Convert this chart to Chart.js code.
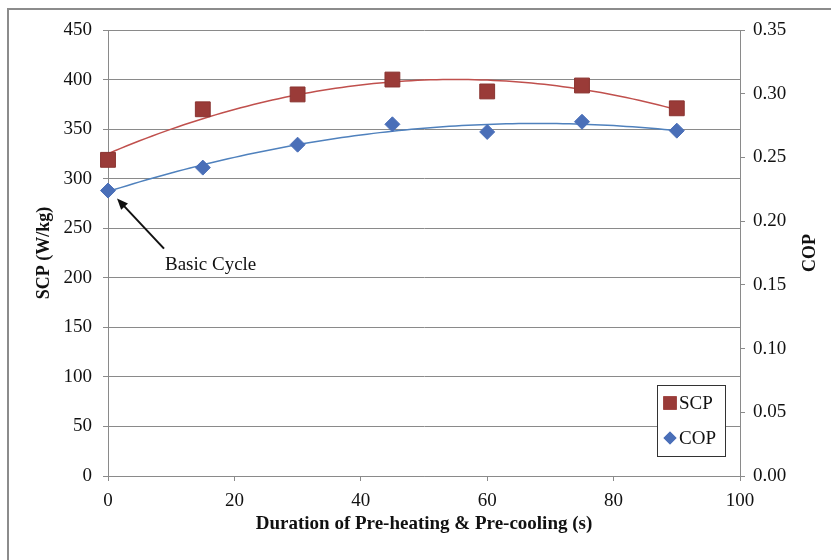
<!DOCTYPE html>
<html>
<head>
<meta charset="utf-8">
<script src="https://cdn.jsdelivr.net/npm/chart.js@4.4.0/dist/chart.umd.min.js"></script>
<style>
  html, body { margin: 0; padding: 0; background: #fff; }
  canvas { display: block; }
</style>
</head>
<body>
<canvas id="grafico" width="831" height="560"></canvas>
<script>
// Duración de pre-calentamiento y pre-enfriamiento (s)
const duracion = [0, 15, 30, 45, 60, 75, 90];
// Potencia específica de enfriamiento (W/kg)
const scp = [319, 370, 385, 400, 388, 394, 371];
// Coeficiente de desempeño
const cop = [0.224, 0.242, 0.260, 0.276, 0.270, 0.278, 0.271];

const ticksX = [0, 20, 40, 60, 80, 100];
const ticksSCP = [0, 50, 100, 150, 200, 250, 300, 350, 400, 450];
const ticksCOP = [0, 0.05, 0.10, 0.15, 0.20, 0.25, 0.30, 0.35];

const fuente = 'Liberation Serif, Times New Roman, serif';
const gris = '#8a8a8a';
const rojo = '#9a3b38';
const rojoLinea = '#c0504d';
const azul = '#4a6fb8';
const azulLinea = '#4f81bd';

// Línea de tendencia polinómica (grado 2) por mínimos cuadrados
function ajusteCuadratico(xs, ys) {
  const s = [0, 0, 0, 0, 0], t = [0, 0, 0];
  xs.forEach((x, i) => {
    for (let k = 0; k < 5; k++) s[k] += Math.pow(x, k);
    for (let k = 0; k < 3; k++) t[k] += ys[i] * Math.pow(x, k);
  });
  const m = [
    [s[0], s[1], s[2], t[0]],
    [s[1], s[2], s[3], t[1]],
    [s[2], s[3], s[4], t[2]]
  ];
  for (let i = 0; i < 3; i++) {
    for (let j = i + 1; j < 3; j++) {
      const f = m[j][i] / m[i][i];
      for (let k = i; k < 4; k++) m[j][k] -= f * m[i][k];
    }
  }
  const c = [0, 0, 0];
  for (let i = 2; i >= 0; i--) {
    let v = m[i][3];
    for (let k = i + 1; k < 3; k++) v -= m[i][k] * c[k];
    c[i] = v / m[i][i];
  }
  return x => c[0] + c[1] * x + c[2] * x * x;
}

function tendencia(xs, ys) {
  const f = ajusteCuadratico(xs, ys);
  const pts = [];
  const xMax = xs[xs.length - 1];
  for (let x = xs[0]; x <= xMax; x += 1) pts.push({ x: x, y: f(x) });
  return pts;
}

const puntos = (xs, ys) => xs.map((x, i) => ({ x: x, y: ys[i] }));

// Marco gris alrededor de la figura
const marco = {
  id: 'marco',
  beforeDraw(chart) {
    const ctx = chart.ctx;
    ctx.save();
    ctx.strokeStyle = '#8c8c8c';
    ctx.lineWidth = 2;
    ctx.strokeRect(8, 9, 900, 900);
    ctx.restore();
  }
};

// Título del eje derecho, leído de abajo hacia arriba
const tituloDerecho = {
  id: 'tituloDerecho',
  afterDraw(chart) {
    const ctx = chart.ctx;
    const a = chart.chartArea;
    ctx.save();
    ctx.translate(810, (a.top + a.bottom) / 2);
    ctx.rotate(-Math.PI / 2);
    ctx.font = 'bold 18px ' + fuente;
    ctx.fillStyle = '#111';
    ctx.textAlign = 'center';
    ctx.textBaseline = 'middle';
    ctx.fillText('COP', 0, 0);
    ctx.restore();
  }
};

// Leyenda en recuadro dentro del área de trazado
const leyenda = {
  id: 'leyenda',
  afterDraw(chart) {
    const ctx = chart.ctx;
    const x0 = 657, y0 = 385, w = 68, h = 71;
    ctx.save();
    ctx.fillStyle = '#fff';
    ctx.fillRect(x0, y0, w, h);
    ctx.strokeStyle = '#333';
    ctx.lineWidth = 1;
    ctx.strokeRect(x0 + 0.5, y0 + 0.5, w, h);
    ctx.font = '19px ' + fuente;
    ctx.textBaseline = 'middle';
    [0, 1].forEach((i, n) => {
      const ds = chart.data.datasets[i];
      const cy = y0 + 18 + n * 35;
      ctx.fillStyle = ds.backgroundColor;
      Chart.helpers.drawPoint(ctx, {
        pointStyle: ds.pointStyle,
        radius: i === 0 ? 9.5 : 6.5,
        borderWidth: 0
      }, x0 + 13, cy);
      ctx.fill();
      ctx.fillStyle = '#111';
      ctx.fillText(ds.label, x0 + 22, cy + 1);
    });
    ctx.restore();
  }
};

// Flecha que señala el ciclo básico
const anotacion = {
  id: 'anotacion',
  afterDraw(chart) {
    const ctx = chart.ctx;
    const px = chart.scales.x.getPixelForValue(duracion[0]);
    const py = chart.scales.y1.getPixelForValue(cop[0]);
    const tipX = px + 9, tipY = py + 8;
    const colaX = px + 56, colaY = py + 58;
    const ang = Math.atan2(tipY - colaY, tipX - colaX);
    ctx.save();
    ctx.strokeStyle = '#111';
    ctx.fillStyle = '#111';
    ctx.lineWidth = 2;
    ctx.beginPath();
    ctx.moveTo(colaX, colaY);
    ctx.lineTo(tipX - 8 * Math.cos(ang), tipY - 8 * Math.sin(ang));
    ctx.stroke();
    ctx.beginPath();
    ctx.moveTo(tipX, tipY);
    ctx.lineTo(tipX - 12 * Math.cos(ang - 0.4), tipY - 12 * Math.sin(ang - 0.4));
    ctx.lineTo(tipX - 12 * Math.cos(ang + 0.4), tipY - 12 * Math.sin(ang + 0.4));
    ctx.closePath();
    ctx.fill();
    ctx.font = '19px ' + fuente;
    ctx.textBaseline = 'middle';
    ctx.fillText('Basic Cycle', px + 57, py + 74);
    ctx.restore();
  }
};

const fijarTicks = lista => scale => {
  scale.ticks = lista.map(v => ({ value: v }));
};

new Chart(document.getElementById('grafico'), {
  type: 'scatter',
  data: {
    datasets: [
      {
        label: 'SCP',
        data: puntos(duracion, scp),
        yAxisID: 'y',
        pointStyle: 'rect',
        pointRadius: 10.5,
        backgroundColor: rojo,
        borderColor: '#8a3431',
        borderWidth: 1,
        showLine: false,
        clip: false,
        order: 1
      },
      {
        label: 'COP',
        data: puntos(duracion, cop),
        yAxisID: 'y1',
        pointStyle: 'rectRot',
        pointRadius: 7.5,
        backgroundColor: azul,
        borderColor: azul,
        borderWidth: 1,
        showLine: false,
        clip: false,
        order: 1
      },
      {
        label: 'SCP tendencia',
        data: tendencia(duracion, scp),
        yAxisID: 'y',
        showLine: true,
        pointRadius: 0,
        borderColor: rojoLinea,
        borderWidth: 1.5,
        tension: 0,
        order: 2
      },
      {
        label: 'COP tendencia',
        data: tendencia(duracion, cop),
        yAxisID: 'y1',
        showLine: true,
        pointRadius: 0,
        borderColor: azulLinea,
        borderWidth: 1.5,
        tension: 0,
        order: 2
      }
    ]
  },
  options: {
    responsive: false,
    animation: false,
    devicePixelRatio: 1,
    layout: { padding: { top: 30, bottom: 0, left: 0, right: 0 } },
    plugins: {
      legend: { display: false },
      tooltip: { enabled: false }
    },
    scales: {
      x: {
        type: 'linear',
        min: 0,
        max: 100,
        afterBuildTicks: fijarTicks(ticksX),
        afterFit: s => { s.height = 84; },
        grid: { drawOnChartArea: false, color: gris, tickLength: 5 },
        border: { color: gris },
        ticks: { color: '#111', font: { family: fuente, size: 19 }, padding: 9, maxRotation: 0 },
        title: {
          display: true,
          text: 'Duration of Pre-heating & Pre-cooling (s)',
          color: '#111',
          font: { family: fuente, size: 19, weight: 'bold' },
          padding: { top: 0, bottom: 25 }
        }
      },
      y: {
        position: 'left',
        min: 0,
        max: 450,
        afterBuildTicks: fijarTicks(ticksSCP),
        afterFit: s => { s.width = 108; },
        grid: { color: gris, tickLength: 5 },
        border: { color: gris },
        ticks: { color: '#111', font: { family: fuente, size: 19 }, padding: 11 },
        title: {
          display: true,
          text: 'SCP (W/kg)',
          color: '#111',
          font: { family: fuente, size: 18, weight: 'bold' },
          padding: { top: 34, bottom: 0 }
        }
      },
      y1: {
        position: 'right',
        min: 0,
        max: 0.35,
        afterBuildTicks: fijarTicks(ticksCOP),
        afterFit: s => { s.width = 91; },
        grid: { drawOnChartArea: false, color: gris, tickLength: 5 },
        border: { color: gris },
        ticks: {
          color: '#111',
          font: { family: fuente, size: 19 },
          padding: 8,
          callback: v => v.toFixed(2)
        }
      }
    }
  },
  plugins: [marco, tituloDerecho, leyenda, anotacion]
});
</script>
</body>
</html>
